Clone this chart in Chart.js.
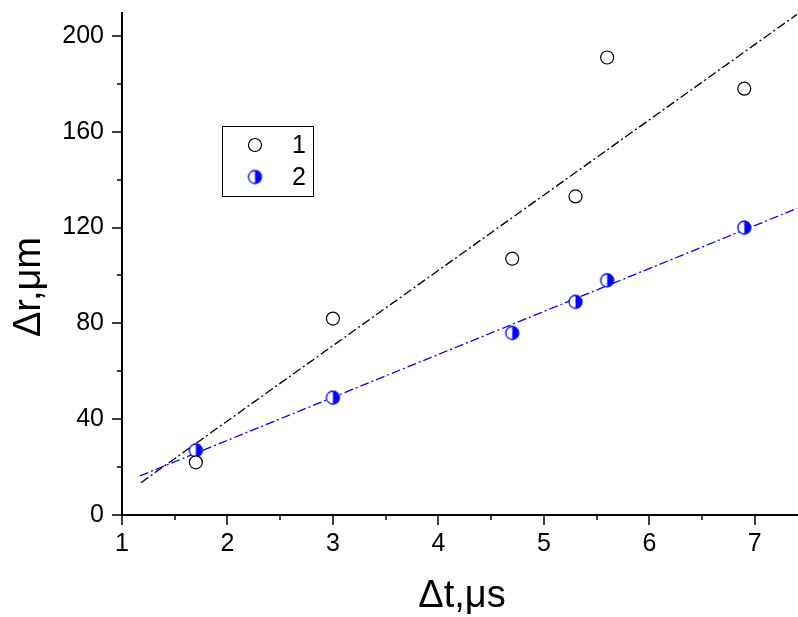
<!DOCTYPE html>
<html><head><meta charset="utf-8">
<script src="https://cdn.jsdelivr.net/npm/chart.js@4/dist/chart.umd.min.js"></script>
<style>html,body{margin:0;padding:0;background:#fff}</style>
</head><body>
<canvas id="c" width="798" height="617"></canvas>
<script>
// ---- data ----
const dtValues = [1.7, 3.0, 4.7, 5.3, 5.6, 6.9];
const dr1 = [22, 82, 107, 133, 191, 178];
const dr2 = [27, 49, 76, 89, 98, 120];
const fit1X = [1.18, 7.4];
const fit1Y = [13.5, 209];
const fit2X = [1.17, 7.4];
const fit2Y = [16.3, 128];
const seriesLabels = ['1', '2'];
const xTickLabels = ['1', '2', '3', '4', '5', '6', '7'];
const xMinorTicks = [1.5, 2.5, 3.5, 4.5, 5.5, 6.5];
const yTickLabels = ['0', '40', '80', '120', '160', '200'];
const yMinorTicks = [20, 60, 100, 140, 180];
const xTitle = 'Δt,μs';
const yTitle = 'Δr,μm';

const FONT = "'Liberation Sans', Arial, sans-serif";
const BLUE = '#0000ff';

function pts(xs, ys) { return xs.map((x, i) => ({x: x, y: ys[i]})); }
function tickList(labels, minors) {
  return labels.map(Number).concat(minors).sort((a, b) => a - b).map(v => ({value: v}));
}

function halfMarker(r) {
  const s = Math.ceil(2 * r + 4);
  const c = document.createElement('canvas');
  c.width = s; c.height = s;
  const g = c.getContext('2d');
  const cx = s / 2, cy = s / 2;
  g.fillStyle = '#fff';
  g.beginPath(); g.arc(cx, cy, r, 0, 2 * Math.PI); g.fill();
  g.fillStyle = BLUE;
  g.beginPath(); g.arc(cx, cy, r, -Math.PI / 2, Math.PI / 2); g.closePath(); g.fill();
  g.strokeStyle = BLUE; g.lineWidth = 1.3;
  g.beginPath(); g.arc(cx, cy, r, 0, 2 * Math.PI); g.stroke();
  return c;
}
const halfImg = halfMarker(6.5);

const axesPlugin = {
  id: 'axesPlugin',
  afterDraw(chart) {
    const ctx = chart.ctx;
    const xs = chart.scales.x, ys = chart.scales.y;
    const a = chart.chartArea;
    ctx.save();
    ctx.strokeStyle = '#000';
    ctx.lineWidth = 2;
    ctx.beginPath();
    ctx.moveTo(a.left, a.top); ctx.lineTo(a.left, a.bottom);
    ctx.moveTo(a.left - 1, a.bottom); ctx.lineTo(a.right + 1, a.bottom);
    ctx.stroke();
    ctx.lineWidth = 1.5;
    ctx.beginPath();
    ys.ticks.forEach(t => {
      const y = Math.round(ys.getPixelForValue(t.value));
      const len = yMinorTicks.includes(t.value) ? 5 : 10;
      ctx.moveTo(a.left, y); ctx.lineTo(a.left - len, y);
    });
    xs.ticks.forEach(t => {
      const x = Math.round(xs.getPixelForValue(t.value));
      const len = xMinorTicks.includes(t.value) ? 5 : 10;
      ctx.moveTo(x, a.bottom); ctx.lineTo(x, a.bottom + len);
    });
    ctx.stroke();

    // axis titles
    ctx.fillStyle = '#000';
    ctx.font = '38px ' + FONT;
    ctx.textAlign = 'center'; ctx.textBaseline = 'middle';
    ctx.fillText(xTitle, 462, 597);
    ctx.save();
    ctx.translate(30, 287);
    ctx.rotate(-Math.PI / 2);
    ctx.fillText(yTitle, 0, 0);
    ctx.restore();

    // legend box
    const bx = 222.5, by = 126.5, bw = 91, bh = 70;
    ctx.lineWidth = 1;
    ctx.strokeStyle = '#000';
    ctx.strokeRect(bx, by, bw, bh);
    ctx.beginPath(); ctx.arc(255, 145, 6.5, 0, 2 * Math.PI);
    ctx.fillStyle = '#fff'; ctx.fill();
    ctx.strokeStyle = '#000'; ctx.lineWidth = 1.2; ctx.stroke();
    ctx.drawImage(halfImg, 255 - halfImg.width / 2, 177 - halfImg.height / 2);
    ctx.fillStyle = '#000';
    ctx.font = '25px ' + FONT;
    ctx.textAlign = 'left'; ctx.textBaseline = 'middle';
    ctx.fillText(chart.data.datasets[0].label, 292, 146);
    ctx.fillText(chart.data.datasets[1].label, 292, 178);
    ctx.restore();
  }
};

new Chart(document.getElementById('c'), {
  type: 'scatter',
  data: {
    datasets: [
      { label: seriesLabels[0], data: pts(dtValues, dr1), pointStyle: 'circle',
        pointRadius: 6.5, pointHoverRadius: 6.5, borderColor: '#000', backgroundColor: '#fff', borderWidth: 1.2 },
      { label: seriesLabels[1], data: pts(dtValues, dr2), pointStyle: halfImg,
        pointRadius: 6.5, borderColor: BLUE, backgroundColor: BLUE },
      { label: 'fit1', data: pts(fit1X, fit1Y), showLine: true, pointRadius: 0,
        borderColor: '#000', borderWidth: 1.3, borderDash: [9, 3, 2, 3], fill: false },
      { label: 'fit2', data: pts(fit2X, fit2Y), showLine: true, pointRadius: 0,
        borderColor: BLUE, borderWidth: 1.3, borderDash: [9, 3, 2, 3], fill: false }
    ]
  },
  options: {
    responsive: false,
    animation: false,
    devicePixelRatio: 1,
    layout: { autoPadding: false, padding: { top: 12, right: 1, left: 0, bottom: 0 } },
    plugins: { legend: { display: false }, tooltip: { enabled: false } },
    scales: {
      x: {
        type: 'linear', min: 1, max: 7.4,
        afterBuildTicks: s => { s.ticks = tickList(xTickLabels, xMinorTicks); },
        afterFit: s => { s.height = 102; s.paddingLeft = 0; s.paddingRight = 0; },
        grid: { display: false, drawTicks: false },
        border: { display: false },
        ticks: { autoSkip: false, maxRotation: 0, padding: 14, color: '#000',
          font: { family: FONT, size: 25 },
          callback: v => xTickLabels.includes(String(v)) ? String(v) : '' },
        title: { display: false, text: xTitle }
      },
      y: {
        type: 'linear', min: 0, max: 210,
        afterBuildTicks: s => { s.ticks = tickList(yTickLabels, yMinorTicks); },
        afterFit: s => { s.width = 122; s.paddingTop = 0; s.paddingBottom = 0; },
        grid: { display: false, drawTicks: false },
        border: { display: false },
        ticks: { autoSkip: false, padding: 18, color: '#000',
          font: { family: FONT, size: 25 },
          callback: v => yTickLabels.includes(String(v)) ? String(v) : '' },
        title: { display: false, text: yTitle }
      }
    }
  },
  plugins: [axesPlugin]
});
</script>
</body></html>
